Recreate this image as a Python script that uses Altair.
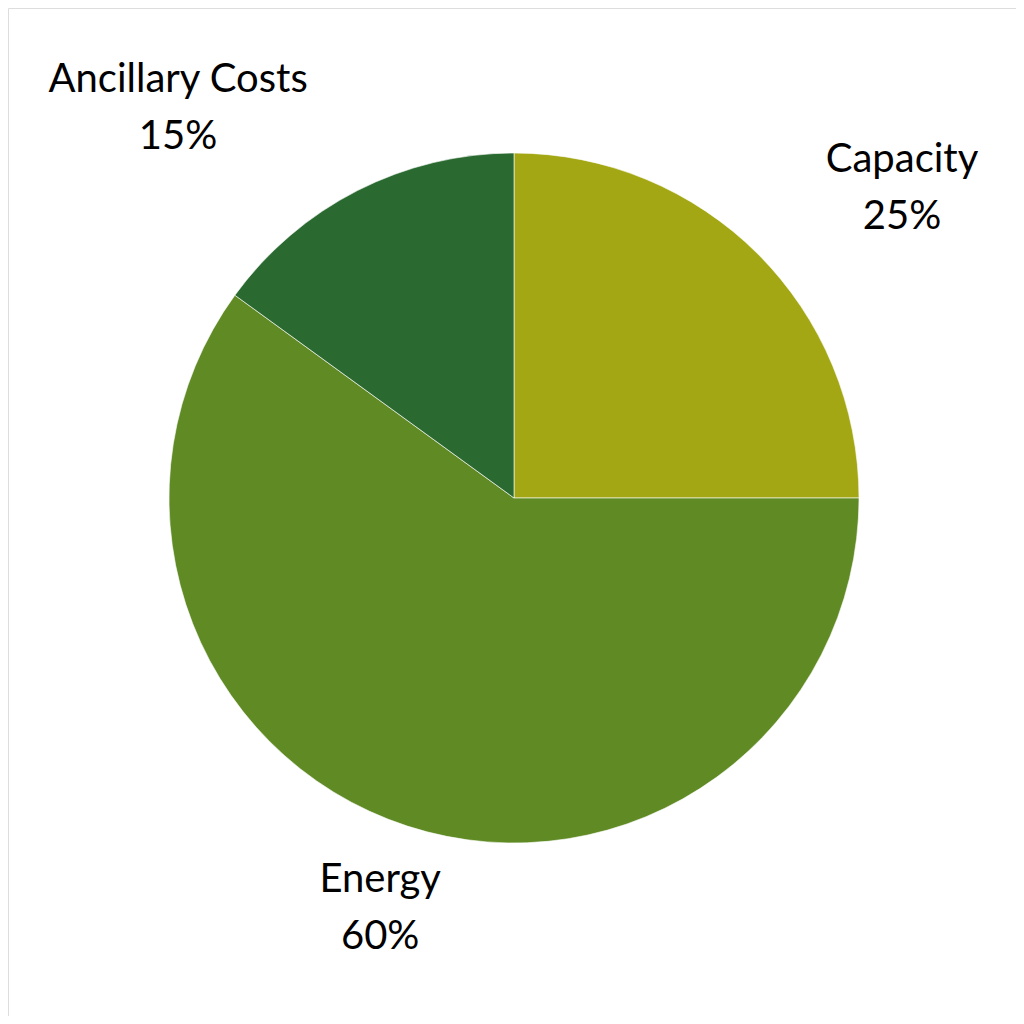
import altair as alt
import pandas as pd

categories = ["Capacity", "Energy", "Ancillary Costs"]
shares = [25, 60, 15]
colors = ["#A3A713", "#5F8A24", "#2A6A30"]

df = pd.DataFrame({
    "category": categories,
    "share": shares,
    "order": list(range(len(categories))),
})
df["label"] = df["category"] + "\n" + df["share"].astype(str) + "%"

CX, CY, R = 506, 490, 345

pie = alt.Chart(df).mark_arc(stroke="white", strokeWidth=0.6).encode(
    theta=alt.Theta("share:Q", stack=True),
    order=alt.Order("order:Q"),
    x=alt.value(CX),
    y=alt.value(CY),
    radius=alt.value(R),
    color=alt.Color("category:N",
                    scale=alt.Scale(domain=categories, range=colors),
                    legend=None),
)

# mid-angle of every slice computed before filtering
label_base = alt.Chart(df).transform_window(
    cum="sum(share)", sort=[alt.SortField("order")],
    frame=[None, 0],
).transform_joinaggregate(
    total="sum(share)"
).transform_calculate(
    mid="datum.cum - datum.share / 2"
)

def label(cat, r, dx, dy):
    return label_base.transform_filter(alt.datum.category == cat).mark_text(
        font="Lato", fontSize=40, color="black", lineBreak="\n",
        lineHeight=57, align="center", baseline="middle", dx=dx, dy=dy,
    ).encode(
        theta=alt.Theta("mid:Q", stack=None,
                        scale=alt.Scale(domain=[0, 100], range=[0, 6.283185307])),
        x=alt.value(CX),
        y=alt.value(CY),
        radius=alt.value(r),
        text="label:N",
    )

chart = alt.layer(
    pie,
    label("Capacity", 495, 38, 12),
    label("Energy", 433, 0, -30),
    label("Ancillary Costs", 513, -103, 39),
).properties(
    width=1008, height=1008, padding=0,
    autosize=alt.AutoSizeParams(type="fit", contains="padding"),
).configure_view(stroke="transparent", strokeWidth=0).configure(background="white")

chart.save("out.html", embed_options={"renderer": "svg", "actions": False})
